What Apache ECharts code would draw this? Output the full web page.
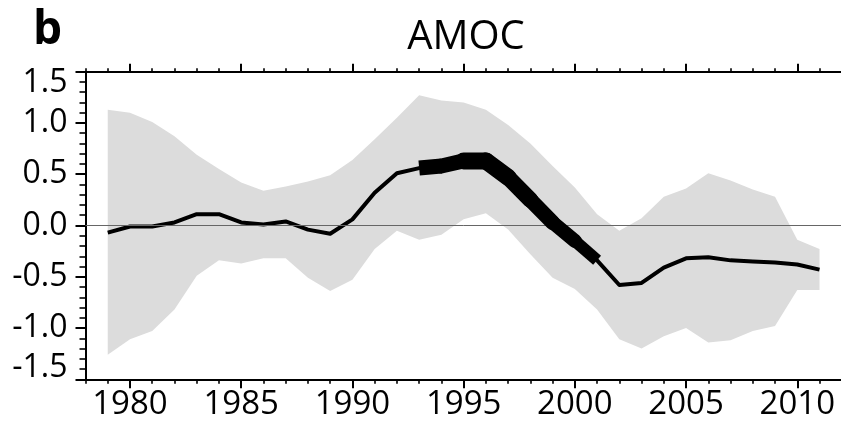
<!DOCTYPE html>
<html>
<head>
<meta charset="utf-8">
<script src="https://cdn.jsdelivr.net/npm/echarts@6/dist/echarts.min.js"></script>
<style>html,body{margin:0;padding:0;background:#fff}#c{width:841px;height:429px}</style>
</head>
<body>
<div id="c"></div>
<script>
// ---- data ----
const years = [1979,1980,1981,1982,1983,1984,1985,1986,1987,1988,1989,1990,1991,1992,1993,1994,1995,1996,1997,1998,1999,2000,2001,2002,2003,2004,2005,2006,2007,2008,2009,2010,2011];
const amoc  = [-0.07,-0.01,-0.01,0.03,0.11,0.11,0.03,0.01,0.04,-0.04,-0.08,0.06,0.32,0.51,0.56,0.58,0.63,0.63,0.47,0.25,0.03,-0.15,-0.34,-0.58,-0.56,-0.41,-0.32,-0.31,-0.34,-0.35,-0.36,-0.38,-0.43];
const upper = [1.13,1.10,1.01,0.87,0.69,0.55,0.42,0.34,0.38,0.43,0.49,0.64,0.84,1.05,1.27,1.22,1.20,1.13,0.98,0.80,0.58,0.37,0.11,-0.05,0.07,0.28,0.36,0.51,0.44,0.35,0.28,-0.14,-0.23];
const lower = [-1.26,-1.11,-1.03,-0.82,-0.49,-0.34,-0.37,-0.32,-0.32,-0.51,-0.64,-0.53,-0.23,-0.05,-0.14,-0.09,0.06,0.12,-0.04,-0.28,-0.51,-0.62,-0.82,-1.11,-1.20,-1.08,-1.00,-1.14,-1.12,-1.03,-0.98,-0.63,-0.63];
const xMajorTicks = [1980,1985,1990,1995,2000,2005,2010];
const yTickLabels = ['-1.5','-1.0','-0.5','0.0','0.5','1.0','1.5'];
// years covered by the thick (highlighted) part of the line
const thickYears = [1993,1994,1995,1996,1997,1998,1999,2000,2001];

// ---- styles ----
const FONT = "'Open Sans', 'Noto Sans', sans-serif";
const thickWidths = [15,15,17,17,16,15,14,12];
const GRID = {left: 85.5, top: 71.7, width: 778.5, height: 307.6, containLabel: false, outerBoundsMode: 'none'};

const chart = echarts.init(document.getElementById('c'), null, {renderer: 'canvas'});

const pairs = years.map((y, i) => [y, amoc[i]]);
const thickSeries = [];
for (let k = 0; k < thickYears.length - 1; k++) {
  const a = years.indexOf(thickYears[k]);
  const b = years.indexOf(thickYears[k + 1]);
  const first = k === 0, last = k === thickYears.length - 2;
  thickSeries.push({
    type: 'line', xAxisIndex: 0, yAxisIndex: 0, z: 5,
    symbol: 'none', silent: true, animation: false,
    data: pairs.slice(a, b + 1),
    lineStyle: {color: '#000', width: thickWidths[k], cap: (first || last) ? 'butt' : 'round', join: 'round'}
  });
}

const tickLbl = (v) => {
  const s = yTickLabels.find(t => Math.abs(parseFloat(t) - v) < 1e-6) || v.toFixed(1);
  if (Math.abs(v - 1.5) < 1e-6) return '{t|' + s + '}';
  if (Math.abs(v + 1.5) < 1e-6) return '{b|' + s + '}';
  return s;
};

const option = {
  animation: false,
  backgroundColor: '#fff',
  grid: [Object.assign({}, GRID), Object.assign({}, GRID)],
  graphic: [
    {type: 'text', left: 33, top: 8, style: {text: 'b', font: "bold 46px " + FONT, fill: '#000'}},
    {type: 'text', x: 466, y: 38, style: {text: 'AMOC', font: "40px " + FONT, fill: '#000', align: 'center', verticalAlign: 'middle'}}
  ],
  xAxis: [
    {gridIndex: 0, type: 'value', position: 'bottom', min: 1978, max: 2013,
     axisLine: {show: true, onZero: false, lineStyle: {color: '#000', width: 2}},
     axisTick: {show: true, customValues: xMajorTicks, length: 9, lineStyle: {color: '#000', width: 2}},
     axisLabel: {show: true, customValues: xMajorTicks, fontSize: 33, fontFamily: FONT, color: '#000', margin: 9, formatter: v => String(v)},
     splitLine: {show: false}},
    {gridIndex: 0, type: 'value', position: 'top', min: 1978, max: 2013,
     axisLine: {show: true, onZero: false, lineStyle: {color: '#000', width: 2}},
     axisTick: {show: true, customValues: xMajorTicks, length: 8, lineStyle: {color: '#000', width: 2}},
     axisLabel: {show: false}, splitLine: {show: false}},
    {gridIndex: 1, type: 'value', position: 'bottom', min: 1978, max: 2013, interval: 1,
     axisLine: {show: false, onZero: false},
     axisTick: {show: true, length: 4.5, lineStyle: {color: '#000', width: 1.6}},
     axisLabel: {show: false}, splitLine: {show: false}},
    {gridIndex: 1, type: 'value', position: 'top', min: 1978, max: 2013, interval: 1,
     axisLine: {show: false, onZero: false},
     axisTick: {show: true, length: 3.5, lineStyle: {color: '#000', width: 1.6}},
     axisLabel: {show: false}, splitLine: {show: false}}
  ],
  yAxis: [
    {gridIndex: 0, type: 'value', position: 'left', min: -1.5, max: 1.5, interval: 0.5,
     axisLine: {show: true, onZero: false, lineStyle: {color: '#000', width: 2}},
     axisTick: {show: true, length: 10, lineStyle: {color: '#000', width: 2}},
     minorTick: {show: true, splitNumber: 5, length: 6, lineStyle: {color: '#000', width: 1.6}},
     axisLabel: {show: true, fontSize: 32, fontFamily: FONT, color: '#000', margin: 18, formatter: tickLbl,
       rich: {t: {fontSize: 32, fontFamily: FONT, color: '#000', padding: [22, 0, 0, 0]},
              b: {fontSize: 32, fontFamily: FONT, color: '#000', padding: [0, 0, 22, 0]}}},
     splitLine: {show: false}, minorSplitLine: {show: false}},
    {gridIndex: 1, type: 'value', min: -1.5, max: 1.5, interval: 0.5, show: false}
  ],
  series: [
    {type: 'custom', xAxisIndex: 0, yAxisIndex: 0, z: 1, silent: true,
     data: years.map((y, i) => [y, upper[i], lower[i]]),
     encode: {x: 0, y: [1, 2]},
     renderItem: function (params, api) {
       if (params.dataIndex !== 0) return null;
       const pts = [];
       for (let i = 0; i < years.length; i++) pts.push(api.coord([years[i], upper[i]]));
       for (let i = years.length - 1; i >= 0; i--) pts.push(api.coord([years[i], lower[i]]));
       return {type: 'polygon', shape: {points: pts}, style: {fill: '#dcdcdc'}};
     }},
    {type: 'line', xAxisIndex: 0, yAxisIndex: 0, z: 2, data: [], symbol: 'none', silent: true,
     markLine: {silent: true, symbol: 'none', label: {show: false},
       lineStyle: {color: '#666', width: 1, type: 'solid'}, data: [{yAxis: 0}]}},
    {type: 'line', xAxisIndex: 0, yAxisIndex: 0, z: 4, data: pairs, symbol: 'none', silent: true,
     lineStyle: {color: '#000', width: 4, join: 'round', cap: 'butt'}}
  ].concat(thickSeries)
};
chart.setOption(option);
</script>
</body>
</html>
